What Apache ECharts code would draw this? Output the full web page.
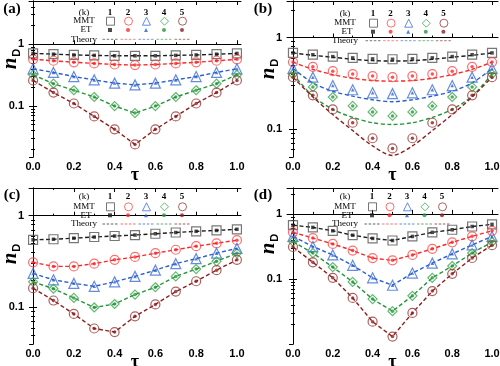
<!DOCTYPE html>
<html><head><meta charset="utf-8">
<script src="https://cdn.jsdelivr.net/npm/echarts@6/dist/echarts.min.js"></script>
<style>html,body{margin:0;padding:0;background:#fff}#c{width:500px;height:366px}</style>
</head><body><div id="c"></div>
<script>
// ---------- data ----------
const tau = [0, 0.1, 0.2, 0.3, 0.4, 0.5, 0.6, 0.7, 0.8, 0.9, 1.0];
const kLabels = ['1', '2', '3', '4', '5'];
const rowLabels = ['MMT', 'ET', 'Theory'];
const panelLabels = ['(a)', '(b)', '(c)', '(d)'];
const xTickValues = [0, 0.2, 0.4, 0.6, 0.8, 1.0];
const xMinorValues = [0.1, 0.3, 0.5, 0.7, 0.9];

// panel (a)
const A_MMT = [
  [0.71, 0.69, 0.67, 0.66, 0.65, 0.65, 0.65, 0.66, 0.67, 0.69, 0.71],
  [0.57, 0.54, 0.51, 0.49, 0.47, 0.46, 0.47, 0.49, 0.51, 0.54, 0.57],
  [0.40, 0.35, 0.30, 0.265, 0.235, 0.22, 0.235, 0.265, 0.30, 0.35, 0.40],
  [0.32, 0.23, 0.18, 0.14, 0.10, 0.077, 0.10, 0.14, 0.18, 0.23, 0.32],
  [0.26, 0.165, 0.11, 0.068, 0.042, 0.024, 0.042, 0.068, 0.11, 0.165, 0.26]
];
const A_ET = A_MMT;
const A_TH = A_MMT;
// panel (b)
const B_MMT = [
  [0.68, 0.65, 0.62, 0.60, 0.585, 0.58, 0.585, 0.60, 0.62, 0.65, 0.68],
  [0.54, 0.48, 0.43, 0.40, 0.38, 0.37, 0.38, 0.40, 0.43, 0.48, 0.54],
  [0.46, 0.37, 0.30, 0.27, 0.25, 0.245, 0.25, 0.27, 0.30, 0.37, 0.46],
  [0.40, 0.29, 0.225, 0.18, 0.155, 0.14, 0.155, 0.18, 0.225, 0.29, 0.40],
  [0.37, 0.235, 0.165, 0.118, 0.08, 0.062, 0.08, 0.118, 0.165, 0.235, 0.37]
];
const B_ET = B_MMT;
const B_TH = [
  [0.68, 0.64, 0.61, 0.58, 0.56, 0.555, 0.56, 0.58, 0.61, 0.64, 0.68],
  [0.54, 0.45, 0.395, 0.36, 0.34, 0.335, 0.34, 0.36, 0.395, 0.45, 0.54],
  [0.46, 0.32, 0.26, 0.23, 0.21, 0.20, 0.21, 0.23, 0.26, 0.32, 0.46],
  [0.40, 0.23, 0.165, 0.135, 0.118, 0.113, 0.118, 0.135, 0.165, 0.23, 0.40],
  [0.37, 0.225, 0.145, 0.097, 0.066, 0.052, 0.066, 0.097, 0.145, 0.225, 0.37]
];
// panel (c)
const C_MMT = [
  [0.545, 0.553, 0.568, 0.585, 0.60, 0.615, 0.635, 0.655, 0.675, 0.69, 0.71],
  [0.31, 0.28, 0.28, 0.30, 0.33, 0.355, 0.39, 0.425, 0.465, 0.50, 0.54],
  [0.235, 0.20, 0.183, 0.17, 0.19, 0.218, 0.255, 0.30, 0.34, 0.39, 0.44],
  [0.19, 0.16, 0.127, 0.10, 0.109, 0.138, 0.166, 0.218, 0.262, 0.318, 0.39],
  [0.162, 0.119, 0.085, 0.059, 0.054, 0.08, 0.108, 0.149, 0.193, 0.255, 0.33]
];
const C_ET = C_MMT;
const C_TH = C_MMT;
// panel (d)
const D_MMT = [
  [0.67, 0.62, 0.55, 0.47, 0.42, 0.39, 0.45, 0.52, 0.57, 0.64, 0.69],
  [0.52, 0.425, 0.345, 0.273, 0.209, 0.193, 0.234, 0.29, 0.366, 0.452, 0.55],
  [0.45, 0.315, 0.234, 0.162, 0.104, 0.08, 0.123, 0.175, 0.243, 0.333, 0.45],
  [0.375, 0.25, 0.152, 0.09, 0.049, 0.032, 0.055, 0.104, 0.158, 0.25, 0.37],
  [0.31, 0.18, 0.104, 0.051, 0.022, 0.013, 0.03, 0.065, 0.12, 0.21, 0.33]
];
const D_ET = D_MMT;
const D_TH = D_MMT;

// ---------- styling / layout ----------
const colors = ['#1e1e1e', '#ff2626', '#2b5fd0', '#25963a', '#8e1e1e'];
const mmtBorder = ['#555555', '#ff4a4a', '#3f6fd8', '#3fa64f', '#9a3a3a'];
const mmtSymbols = ['rect', 'circle', 'triangle', 'diamond', 'circle'];
const etSymbols = ['rect', 'circle', 'triangle', 'circle', 'circle'];
const thLegendColors = ['rgba(60,60,60,0.55)', 'rgba(255,60,60,0.5)', 'rgba(43,95,208,0.5)', 'rgba(37,150,58,0.5)', 'rgba(142,30,30,0.5)'];

const panels = [
  { mmt: A_MMT, et: A_ET, th: A_TH, ymin: 0.015, ymax: 5, xmin: -0.02, xmax: 1.02, smooth: false,
    grid: { left: 29, top: 1, width: 212, height: 156 }, namePad: 40,
    leg: { x0: 110, dx: 18, yK: 13, yM: 20.7, yE: 30, yT: 39.3, labX: 84 },
    lab: { x: 12, y: 9 } },
  { mmt: B_MMT, et: B_ET, th: B_TH, ymin: 0.05, ymax: 2.5, xmin: -0.03, xmax: 1.03, smooth: 0.3,
    grid: { left: 287, top: 1, width: 211, height: 156 }, namePad: 20,
    leg: { x0: 373, dx: 17.6, yK: 14, yM: 22.7, yE: 31.7, yT: 40.7, labX: 345 },
    lab: { x: 263, y: 9 } },
  { mmt: C_MMT, et: C_ET, th: C_TH, ymin: 0.04, ymax: 2, xmin: -0.02, xmax: 1.02, smooth: false,
    grid: { left: 29, top: 188, width: 212, height: 156 }, namePad: 24,
    leg: { x0: 110, dx: 18, yK: 197, yM: 206.3, yE: 215.3, yT: 224, labX: 84 },
    lab: { x: 12, y: 195 } },
  { mmt: D_MMT, et: D_ET, th: D_TH, ymin: 0.01, ymax: 2.5, xmin: -0.03, xmax: 1.03, smooth: false,
    grid: { left: 287, top: 188, width: 211, height: 156 }, namePad: 44,
    leg: { x0: 372, dx: 17.5, yK: 197, yM: 206.3, yE: 215.3, yT: 224, labX: 345 },
    lab: { x: 263, y: 195 } }
];

// minor tick positions (in log10 units, for helper value axes)
function minorLog(min, max) {
  const out = [];
  for (let e = -3; e <= 1; e++) for (let m = 2; m <= 9; m++) {
    const v = m * Math.pow(10, e);
    if (v > min * 1.0001 && v < max * 0.9999) out.push(Math.log10(v));
  }
  return out;
}

const AX = { lineStyle: { color: '#000', width: 1 } };
const labelFont = { fontFamily: 'Liberation Sans, Arial', fontWeight: 'bold', fontSize: 11, color: '#000' };
const serif = 'Liberation Serif, Times New Roman, serif';

const grids = [], xAxes = [], yAxes = [], series = [], legends = [], graphics = [];

panels.forEach((P, p) => {
  grids.push(Object.assign({ containLabel: false, outerBoundsMode: 'none' }, P.grid));
  const xBase = { gridIndex: p, type: 'value', min: P.xmin, max: P.xmax, splitLine: { show: false } };
  xAxes.push(Object.assign({}, xBase, {
    position: 'bottom', axisLine: AX,
    axisTick: { inside: true, length: 4, lineStyle: { color: '#000' }, customValues: xTickValues },
    axisLabel: Object.assign({ customValues: xTickValues, margin: 4, formatter: v => v.toFixed(1) }, labelFont),
    name: 'τ', nameLocation: 'middle', nameGap: 9, nameMoveOverlap: false,
    nameTextStyle: { fontFamily: serif, fontWeight: 'bold', fontSize: 18, color: '#000' }
  }));
  xAxes.push(Object.assign({}, xBase, {
    position: 'bottom', axisLine: { show: false },
    axisTick: { inside: true, length: 2, lineStyle: { color: '#000' }, customValues: xMinorValues },
    axisLabel: { show: false }
  }));
  xAxes.push(Object.assign({}, xBase, {
    position: 'top', axisLine: AX,
    axisTick: { inside: true, length: 4, lineStyle: { color: '#000' }, customValues: xTickValues },
    axisLabel: { show: false }
  }));
  xAxes.push(Object.assign({}, xBase, {
    position: 'top', axisLine: { show: false },
    axisTick: { inside: true, length: 2, lineStyle: { color: '#000' }, customValues: xMinorValues },
    axisLabel: { show: false }
  }));
  const yBase = { gridIndex: p, type: 'log', logBase: 10, min: P.ymin, max: P.ymax, splitLine: { show: false } };
  const yHelp = { gridIndex: p, type: 'value', min: Math.log10(P.ymin), max: Math.log10(P.ymax), splitLine: { show: false } };
  const minors = minorLog(P.ymin, P.ymax);
  yAxes.push(Object.assign({}, yBase, {
    position: 'left', axisLine: AX,
    axisTick: { inside: true, length: 4, lineStyle: { color: '#000' } },
    axisLabel: Object.assign({ showMinLabel: false, showMaxLabel: false, margin: 5 }, labelFont),
    name: '{n|n}{d|D}', nameLocation: 'middle', nameGap: 6, nameMoveOverlap: false,
    nameTextStyle: {
      padding: [0, 0, 0, P.namePad],
      rich: {
        n: { fontFamily: serif, fontStyle: 'italic', fontWeight: 'bold', fontSize: 21, lineHeight: 24, verticalAlign: 'middle', color: '#000' },
        d: { fontFamily: 'Liberation Sans, Arial', fontWeight: 'bold', fontSize: 11, lineHeight: 24, verticalAlign: 'bottom', padding: [0, 0, 1, 1], color: '#000' }
      }
    }
  }));
  yAxes.push(Object.assign({}, yHelp, {
    position: 'left', axisLine: { show: false },
    axisTick: { inside: true, length: 2, lineStyle: { color: '#000' }, customValues: minors },
    axisLabel: { show: false }
  }));
  yAxes.push(Object.assign({}, yBase, {
    position: 'right', axisLine: AX,
    axisTick: { inside: true, length: 4, lineStyle: { color: '#000' } },
    axisLabel: { show: false }
  }));
  yAxes.push(Object.assign({}, yHelp, {
    position: 'right', axisLine: { show: false },
    axisTick: { inside: true, length: 2, lineStyle: { color: '#000' }, customValues: minors },
    axisLabel: { show: false }
  }));

  for (let k = 0; k < 5; k++) {
    const xi = p * 4, yi = p * 4;
    series.push({
      name: 'TH' + (k + 1), type: 'line', xAxisIndex: xi, yAxisIndex: yi, z: 2,
      data: tau.map((t, i) => [t, P.th[k][i]]), symbol: 'none', smooth: P.smooth,
      lineStyle: { color: colors[k], width: 1.4, type: [4, 2.5] }, itemStyle: { color: colors[k] },
      silent: true, animation: false
    });
    series.push({
      name: 'MMT' + (k + 1), type: 'scatter', xAxisIndex: xi, yAxisIndex: yi, z: 3,
      data: tau.map((t, i) => [t, P.mmt[k][i]]), symbol: mmtSymbols[k], symbolSize: k === 2 ? 10 : 9,
      itemStyle: { color: 'rgba(255,255,255,0)', borderColor: mmtBorder[k], borderWidth: 1.2 },
      silent: true, animation: false
    });
    series.push({
      name: 'ET' + (k + 1), type: 'scatter', xAxisIndex: xi, yAxisIndex: yi, z: 4,
      data: tau.map((t, i) => [t, P.et[k][i]]), symbol: etSymbols[k], symbolSize: 3.5,
      itemStyle: { color: colors[k] }, silent: true, animation: false
    });
  }

  // legend: one single-item legend per key so that each sits under its column number
  const L = P.leg;
  const one = (name, cx, cy, w, h, extra) => ({
    left: cx - w / 2, top: cy - h / 2, orient: 'horizontal', padding: 0,
    itemWidth: w, itemHeight: h, symbolKeepAspect: false,
    selectedMode: false, formatter: () => '', textStyle: { fontSize: 1 },
    data: [Object.assign({ name: name }, extra)]
  });
  for (let k = 0; k < 5; k++) {
    const cx = L.x0 + k * L.dx;
    legends.push(one('MMT' + (k + 1), cx, L.yM, 8, 8, { icon: mmtSymbols[k], itemStyle: { color: 'rgba(255,255,255,0)', borderColor: mmtBorder[k], borderWidth: 1 } }));
    legends.push(one('ET' + (k + 1), cx, L.yE, 4, 4, { icon: etSymbols[k], itemStyle: { color: colors[k], borderWidth: 0 } }));
    legends.push(one('TH' + (k + 1), cx, L.yT, 15, 1.3, { icon: 'path://M0 0h3v1h-3z M5 0h3v1h-3z M10 0h3v1h-3z M15 0h3v1h-3z', itemStyle: { color: thLegendColors[k], borderWidth: 0 } }));
  }

  const T = (text, x, y, font) => ({ type: 'text', x: x, y: y, silent: true,
    style: { text: text, font: font, fill: '#000', textAlign: 'center', textVerticalAlign: 'middle' } });
  graphics.push(T('(k)', L.labX, L.yK, '9px ' + serif));
  kLabels.forEach((s, k) => graphics.push(T(s, L.x0 + k * L.dx, L.yK, 'bold 9px ' + serif)));
  graphics.push(T(rowLabels[0], L.labX, L.yM, '9px ' + serif));
  graphics.push(T(rowLabels[1], L.labX + 2, L.yE, '9px ' + serif));
  graphics.push(T(rowLabels[2], L.labX, L.yT, '9px ' + serif));
  graphics.push(T(panelLabels[p], P.lab.x, P.lab.y, 'bold 15px ' + serif));
});

const chart = echarts.init(document.getElementById('c'), null, { renderer: 'canvas' });
chart.setOption({
  animation: false,
  backgroundColor: '#fff',
  grid: grids, xAxis: xAxes, yAxis: yAxes, series: series, legend: legends,
  graphic: graphics
});
</script></body></html>
